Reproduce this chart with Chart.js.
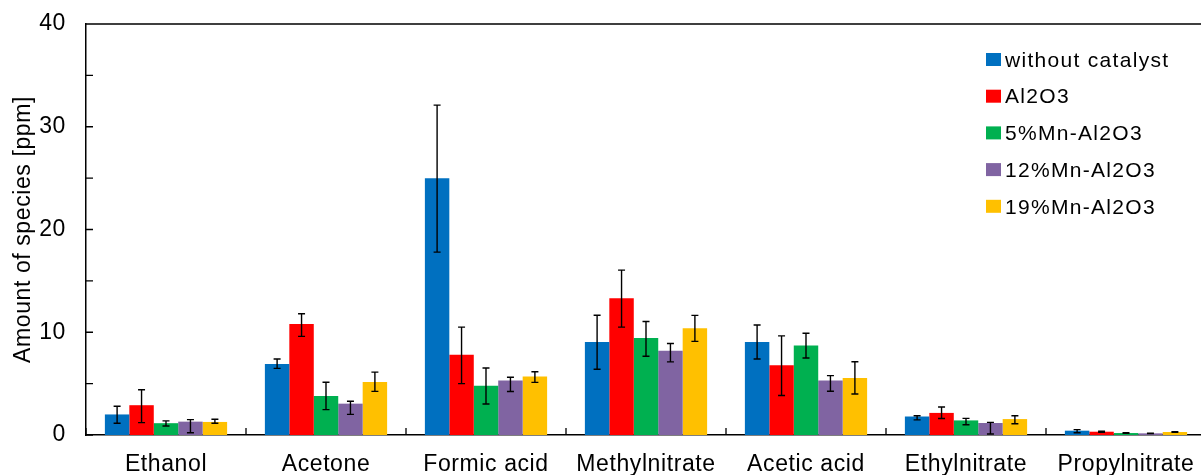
<!DOCTYPE html>
<html>
<head>
<meta charset="utf-8">
<script src="https://cdn.jsdelivr.net/npm/chart.js@4.4.1/dist/chart.umd.min.js"></script>
<style>
  body { margin: 0; overflow: hidden; background: #fff; }
  canvas { display: block; }
</style>
</head>
<body>
<canvas id="myChart" width="1215" height="475"></canvas>
<script>
const categories = ["Ethanol", "Acetone", "Formic acid", "Methylnitrate", "Acetic acid", "Ethylnitrate", "Propylnitrate"];
const seriesNames = ["without catalyst", "Al2O3", "5%Mn-Al2O3", "12%Mn-Al2O3", "19%Mn-Al2O3"];
const seriesColors = ["#0070C0", "#FF0000", "#00B050", "#8064A2", "#FFC000"];

// bar heights [ppm]
const withoutCatalyst = [2.0, 6.9, 25.0, 9.05, 9.05, 1.8, 0.42];
const al2o3 = [2.9, 10.8, 7.8, 13.3, 6.8, 2.15, 0.32];
const mn5 = [1.15, 3.8, 4.8, 9.45, 8.7, 1.42, 0.19];
const mn12 = [1.3, 3.05, 5.3, 8.2, 5.3, 1.17, 0.16];
const mn19 = [1.27, 5.15, 5.7, 10.4, 5.55, 1.55, 0.29];

// error bars, upper and lower lengths
const errUp = [
  [0.8, 0.5, 7.1, 2.6, 1.65, 0.08, 0.1],
  [1.5, 1.0, 2.7, 2.75, 2.85, 0.58, 0.05],
  [0.22, 1.33, 1.72, 1.6, 1.2, 0.2, 0.03],
  [0.2, 0.23, 0.32, 0.7, 0.48, 0.06, 0.02],
  [0.26, 0.97, 0.45, 1.24, 1.58, 0.32, 0.03],
];
const errDown = [
  [0.85, 0.42, 7.2, 2.65, 1.65, 0.33, 0.2],
  [1.7, 1.2, 2.8, 2.8, 2.95, 0.55, 0.05],
  [0.28, 1.33, 1.78, 1.78, 1.2, 0.42, 0.03],
  [1.08, 1.04, 1.07, 1.08, 1.04, 1.07, 0.02],
  [0.13, 0.9, 0.58, 1.29, 1.56, 0.46, 0.03],
];

const yMin = 0;
const yMax = 40;
const yStep = 10;
const yMinorStep = 5;

const seriesValues = [withoutCatalyst, al2o3, mn5, mn12, mn19];

Chart.defaults.font.family = "'Liberation Sans', Arial, sans-serif";
Chart.defaults.color = "#000";

const errorBars = {
  id: "errorBars",
  afterDatasetsDraw(chart) {
    const ctx = chart.ctx;
    const y = chart.scales.y;
    ctx.save();
    ctx.strokeStyle = "#000";
    ctx.lineWidth = 1.4;
    chart.data.datasets.forEach((ds, i) => {
      const meta = chart.getDatasetMeta(i);
      meta.data.forEach((bar, j) => {
        const v = ds.data[j];
        const top = y.getPixelForValue(v + errUp[i][j]);
        const bottom = y.getPixelForValue(v - errDown[i][j]);
        ctx.beginPath();
        ctx.moveTo(bar.x, top);
        ctx.lineTo(bar.x, bottom);
        ctx.moveTo(bar.x - 3.5, top);
        ctx.lineTo(bar.x + 3.5, top);
        ctx.moveTo(bar.x - 3.5, bottom);
        ctx.lineTo(bar.x + 3.5, bottom);
        ctx.stroke();
      });
    });
    ctx.restore();
  },
};

const frame = {
  id: "frame",
  beforeUpdate(chart) {
    chart.ctx.letterSpacing = "0.6px";
  },
  beforeDraw(chart) {
    chart.ctx.letterSpacing = "0.6px";
  },
  afterDraw(chart) {
    const { ctx, chartArea: a, scales } = chart;
    const y = scales.y;
    ctx.save();
    ctx.strokeStyle = "#000";
    ctx.lineWidth = 1.3;
    ctx.beginPath();
    // tick marks inside the plot
    for (let v = yMin; v <= yMax; v += yMinorStep) {
      const py = y.getPixelForValue(v);
      ctx.moveTo(a.left, py);
      ctx.lineTo(a.left + 7, py);
    }
    const catW = a.width / categories.length;
    for (let i = 0; i <= categories.length; i++) {
      const px = a.left + i * catW;
      ctx.moveTo(px, a.bottom);
      ctx.lineTo(px, a.bottom - 7);
    }
    ctx.moveTo(a.left, a.top);
    ctx.lineTo(a.right, a.top);
    ctx.moveTo(a.right, a.top);
    ctx.lineTo(a.right, a.bottom);
    ctx.stroke();

    // legend
    ctx.font = "21px 'Liberation Sans', Arial, sans-serif";
    ctx.letterSpacing = "1.3px";
    ctx.textBaseline = "middle";
    ctx.textAlign = "left";
    seriesNames.forEach((name, i) => {
      const cy = 60 + i * 36.7;
      ctx.fillStyle = seriesColors[i];
      ctx.fillRect(986, cy - 7, 15, 13);
      ctx.fillStyle = "#000";
      ctx.fillText(name, 1005, cy + 1);
    });
    ctx.restore();
  },
};

const ctx = document.getElementById("myChart");
new Chart(ctx, {
  type: "bar",
  data: {
    labels: categories,
    datasets: seriesNames.map((name, i) => ({
      label: name,
      data: seriesValues[i],
      backgroundColor: seriesColors[i],
      borderWidth: 0,
      categoryPercentage: 0.764,
      barPercentage: 1.0,
    })),
  },
  options: {
    responsive: false,
    animation: false,
    devicePixelRatio: 1,
    layout: { padding: { top: 24, right: 9, bottom: 0, left: 0 } },
    plugins: {
      legend: { display: false },
      tooltip: { enabled: false },
    },
    scales: {
      x: {
        grid: { display: false, drawTicks: false },
        border: { display: true, color: "#000", width: 1.5 },
        ticks: { font: { size: 23 }, padding: 16, maxRotation: 0, autoSkip: false },
        afterFit(s) {
          s.height = 40;
        },
      },
      y: {
        min: yMin,
        max: yMax,
        grid: { display: false, drawTicks: false },
        border: { display: true, color: "#000", width: 1.5 },
        ticks: { stepSize: yStep, font: { size: 23 }, padding: 20 },
        title: {
          display: true,
          text: "Amount of species [ppm]",
          font: { size: 23 },
          padding: { top: 10, bottom: 0 },
        },
        afterFit(s) {
          s.width = 86;
          s.paddingTop = 0;
          s.paddingBottom = 0;
        },
      },
    },
  },
  plugins: [errorBars, frame],
});
</script>
</body>
</html>
